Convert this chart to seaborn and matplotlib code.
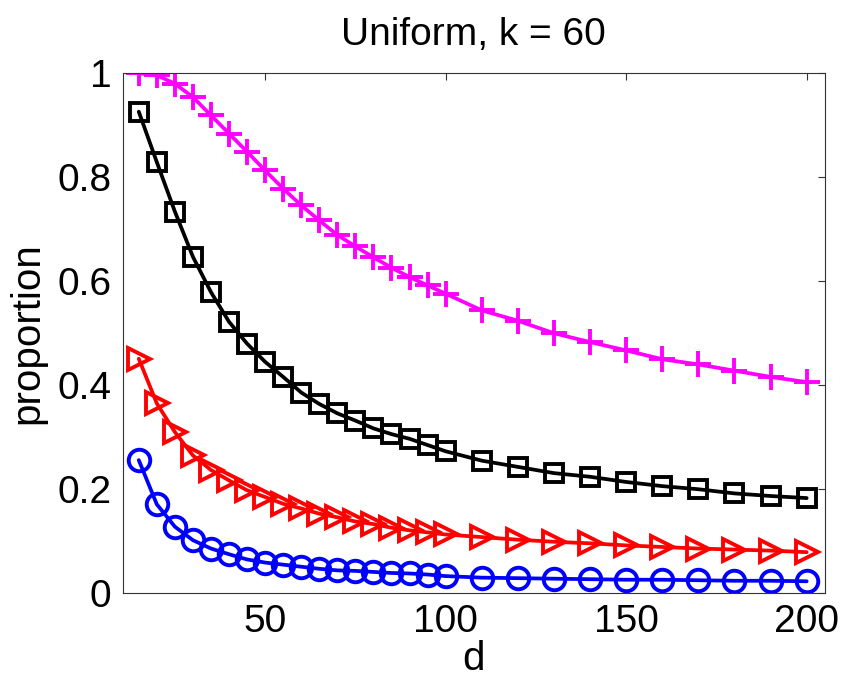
import numpy as np
import pandas as pd
import matplotlib
matplotlib.use('Agg')
import matplotlib.pyplot as plt
import seaborn as sns

# d values and proportions
d = [15, 20, 25, 30, 35, 40, 45, 50, 55, 60, 65, 70, 75, 80, 85, 90, 95, 100,
     110, 120, 130, 140, 150, 160, 170, 180, 190, 200]

magenta_vals = [1.000, 0.996, 0.980, 0.954, 0.919, 0.884, 0.849, 0.813, 0.778,
                0.746, 0.717, 0.689, 0.667, 0.646, 0.626, 0.608, 0.592, 0.576,
                0.544, 0.524, 0.500, 0.483, 0.467, 0.450, 0.440, 0.428, 0.416, 0.406]
black_vals = [0.926, 0.829, 0.734, 0.647, 0.579, 0.522, 0.480, 0.445, 0.416,
              0.386, 0.364, 0.346, 0.332, 0.317, 0.306, 0.297, 0.285, 0.273,
              0.255, 0.243, 0.231, 0.224, 0.214, 0.206, 0.200, 0.192, 0.187, 0.183]
red_vals = [0.451, 0.365, 0.310, 0.265, 0.237, 0.217, 0.198, 0.185, 0.172,
            0.163, 0.153, 0.146, 0.138, 0.133, 0.126, 0.121, 0.117, 0.113,
            0.108, 0.103, 0.099, 0.096, 0.092, 0.089, 0.086, 0.084, 0.082, 0.079]
blue_vals = [0.256, 0.171, 0.128, 0.102, 0.086, 0.075, 0.065, 0.059, 0.055,
             0.051, 0.047, 0.044, 0.043, 0.041, 0.039, 0.038, 0.036, 0.033,
             0.030, 0.029, 0.028, 0.027, 0.026, 0.026, 0.025, 0.024, 0.024, 0.023]

sns.set_style('white')
plt.rcParams['font.family'] = ['Liberation Sans', 'DejaVu Sans']
plt.rcParams['text.color'] = 'black'
plt.rcParams['axes.labelcolor'] = 'black'
plt.rcParams['xtick.color'] = 'black'
plt.rcParams['ytick.color'] = 'black'

fig = plt.figure(figsize=(8.45, 6.78), dpi=100)
ax = fig.add_axes([0.145, 0.125, 0.831, 0.767])

series = [
    (magenta_vals, '#ff00ff', '+', 19),
    (black_vals, 'black', 's', 13.5),
    (red_vals, 'red', '>', 16),
    (blue_vals, 'blue', 'o', 15.5),
]
for vals, col, mk, ms in series:
    df = pd.DataFrame({'d': d, 'proportion': vals})
    sns.lineplot(data=df, x='d', y='proportion', ax=ax, color=col, linewidth=2.7,
                 marker=mk, markersize=ms, markerfacecolor='none',
                 markeredgecolor=col, markeredgewidth=2.8)

ax.set_xlim(10.5, 205)
ax.set_ylim(0, 1)
ax.set_xticks([50, 100, 150, 200])
ax.set_yticks([0, 0.2, 0.4, 0.6, 0.8, 1])
ax.set_yticklabels(['0', '0.2', '0.4', '0.6', '0.8', '1'])
ax.tick_params(direction='in', top=True, right=True, length=5, width=0.8,
               labelsize=28, pad=8, color='#333333', labelcolor='black')
for s in ax.spines.values():
    s.set_linewidth(0.8)
    s.set_color('#333333')

ax.set_title('Uniform, k = 60', fontsize=28, pad=20, color='black')
ax.set_xlabel('d', fontsize=29, labelpad=0)
ax.set_ylabel('proportion', fontsize=29, labelpad=8)

fig.savefig('out.png', dpi=100)
